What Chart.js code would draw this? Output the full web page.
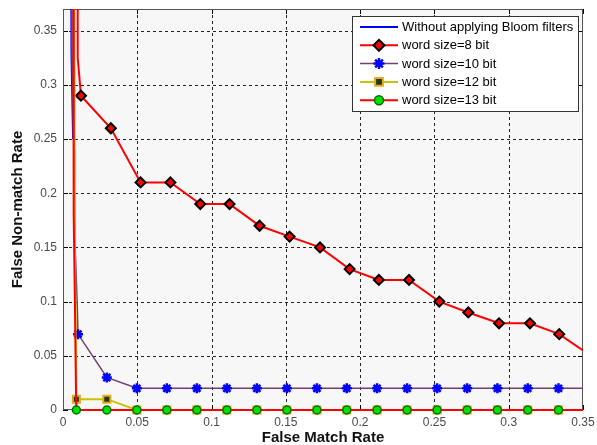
<!DOCTYPE html>
<html>
<head>
<meta charset="utf-8">
<script src="https://cdn.jsdelivr.net/npm/chart.js@4/dist/chart.umd.min.js"></script>
<style>
  html, body { margin: 0; padding: 0; background: #fff; }
  #chart { display: block; }
</style>
</head>
<body>
<canvas id="chart" width="597" height="445"></canvas>
<script>
// FMR / FNMR curves.
const seriesLabels = [
  'Without applying Bloom filters',
  'word size=8 bit',
  'word size=10 bit',
  'word size=12 bit',
  'word size=13 bit'
];

const xTicks = [0, 0.05, 0.1, 0.15, 0.2, 0.25, 0.3, 0.35];
const yTicks = [0, 0.05, 0.1, 0.15, 0.2, 0.25, 0.3, 0.35];

// Shared marker positions along the false match rate axis.
const fmrGrid = [0.009, 0.0295, 0.0497, 0.0699, 0.0901, 0.1103, 0.1305, 0.1507, 0.1709,
                 0.191, 0.2114, 0.2316, 0.2518, 0.272, 0.2924, 0.3128, 0.3335];

// Without Bloom filters: steep curve hugging the y axis, mostly hidden.
const noBloomFmr  = [0.0052, 0.0057, 0.0068];
const noBloomFnmr = [0.6, 0.33, 0.25];

// 8 bit
const lead8Fmr  = [0.0098, 0.0099];
const lead8Fnmr = [0.6, 0.325];
const fmr8  = [0.0121, 0.0322, 0.0522, 0.0723, 0.0924, 0.1121, 0.1323, 0.1525, 0.173,
               0.1929, 0.2126, 0.2329, 0.2533, 0.2728, 0.2935, 0.3143, 0.334];
const fnmr8 = [0.29, 0.26, 0.21, 0.21, 0.19, 0.19, 0.17, 0.16, 0.15,
               0.13, 0.12, 0.12, 0.10, 0.09, 0.08, 0.08, 0.07];
const tail8Fmr  = [0.35];
const tail8Fnmr = [0.055];

// 10 bit
const lead10Fmr  = [0.0055, 0.006, 0.0072, 0.0082, 0.0095];
const lead10Fnmr = [0.6, 0.33, 0.25, 0.15, 0.1];
const fmr10  = [0.0101, 0.0295, 0.0497, 0.0699, 0.0901, 0.1103, 0.1305, 0.1507, 0.1709,
                0.191, 0.2114, 0.2316, 0.2518, 0.272, 0.2924, 0.3128, 0.3335];
const fnmr10 = [0.07, 0.03, 0.02, 0.02, 0.02, 0.02, 0.02, 0.02, 0.02,
                0.02, 0.02, 0.02, 0.02, 0.02, 0.02, 0.02, 0.02];
const tail10Fmr  = [0.35];
const tail10Fnmr = [0.02];

// 12 bit
const lead12Fmr  = [0.0074, 0.0078, 0.008, 0.0086];
const lead12Fnmr = [0.6, 0.24, 0.15, 0.06];
const fnmr12 = [0.01, 0.01, 0, 0, 0, 0, 0, 0, 0, 0, 0, 0, 0, 0, 0, 0, 0];
const tail12Fmr  = [0.35];
const tail12Fnmr = [0];

// 13 bit
const lead13Fmr  = [0.0068, 0.0071, 0.0073, 0.0083, 0.0088];
const lead13Fnmr = [0.6, 0.3, 0.18, 0.07, 0.01];
const fnmr13 = [0, 0, 0, 0, 0, 0, 0, 0, 0, 0, 0, 0, 0, 0, 0, 0, 0];
const tail13Fmr  = [0.35];
const tail13Fnmr = [0];

// Lead-in / tail points carry no marker; the measured points do.
const buildSeries = (leadX, leadY, markX, markY, tailX, tailY, radius) => {
  const data = [], radii = [];
  leadX.forEach((x, i) => { data.push({ x, y: leadY[i] }); radii.push(0); });
  markX.forEach((x, i) => { data.push({ x, y: markY[i] }); radii.push(radius); });
  tailX.forEach((x, i) => { data.push({ x, y: tailY[i] }); radii.push(0); });
  return { data, radii };
};

const s0  = buildSeries(noBloomFmr, noBloomFnmr, [], [], [], [], 0);
const s8  = buildSeries(lead8Fmr, lead8Fnmr, fmr8, fnmr8, tail8Fmr, tail8Fnmr, 5);
const s10 = buildSeries(lead10Fmr, lead10Fnmr, fmr10, fnmr10, tail10Fmr, tail10Fnmr, 5);
const s12 = buildSeries(lead12Fmr, lead12Fnmr, fmrGrid, fnmr12, tail12Fmr, tail12Fnmr, 5);
const s13 = buildSeries(lead13Fmr, lead13Fnmr, fmrGrid, fnmr13, tail13Fmr, tail13Fnmr, 4);

const CLIP = { left: 0, top: 0, right: 0, bottom: 7 };
const FONT = "'Liberation Sans', Arial, sans-serif";

const datasets = [
  { label: seriesLabels[0], data: s0.data, pointRadius: s0.radii, order: 5,
    borderColor: '#0000ff', borderWidth: 2 },
  { label: seriesLabels[1], data: s8.data, pointRadius: s8.radii, order: 4,
    borderColor: '#ff0000', borderWidth: 2,
    pointStyle: 'rectRot', pointBackgroundColor: '#ff0000', pointBorderColor: '#000000', pointBorderWidth: 2 },
  { label: seriesLabels[2], data: s10.data, pointRadius: s10.radii, order: 3,
    borderColor: '#704070', borderWidth: 1.5,
    pointStyle: 'star', pointBackgroundColor: '#0000ff', pointBorderColor: '#0000ff', pointBorderWidth: 2.5 },
  { label: seriesLabels[3], data: s12.data, pointRadius: s12.radii, order: 2,
    borderColor: '#c8c400', borderWidth: 2,
    pointStyle: 'rect', pointBackgroundColor: '#1c3c1c', pointBorderColor: '#e8a820', pointBorderWidth: 2 },
  { label: seriesLabels[4], data: s13.data, pointRadius: s13.radii, order: 1,
    borderColor: '#ff0000', borderWidth: 2,
    pointStyle: 'circle', pointBackgroundColor: '#00e000', pointBorderColor: '#007000', pointBorderWidth: 1.5 }
].map(ds => ({ ...ds, clip: CLIP, tension: 0, fill: false, pointHoverRadius: 0 }));

const fmtTick = v => String(+v.toFixed(2));

// Light plot background, dashed grid, inward ticks and the box frame.
const framePlugin = {
  id: 'frame',
  beforeDatasetsDraw(chart) {
    const { ctx, chartArea: a, scales: { x, y } } = chart;
    ctx.save();
    ctx.fillStyle = '#f7f7f7';
    ctx.fillRect(a.left, a.top, a.right - a.left, a.bottom - a.top);

    ctx.strokeStyle = '#222';
    ctx.lineWidth = 1;
    ctx.setLineDash([3, 3]);
    xTicks.forEach(v => {
      const px = Math.round(x.getPixelForValue(v)) + 0.5;
      if (px <= a.left + 1 || px >= a.right - 1) return;
      ctx.beginPath(); ctx.moveTo(px, a.top); ctx.lineTo(px, a.bottom); ctx.stroke();
    });
    yTicks.forEach(v => {
      const py = Math.round(y.getPixelForValue(v)) + 0.5;
      if (py >= a.bottom - 1 || py <= a.top + 1) return;
      ctx.beginPath(); ctx.moveTo(a.left, py); ctx.lineTo(a.right, py); ctx.stroke();
    });

    ctx.setLineDash([]);
    ctx.strokeStyle = '#000';
    const tl = 5;
    xTicks.forEach(v => {
      const px = Math.round(x.getPixelForValue(v)) + 0.5;
      ctx.beginPath();
      ctx.moveTo(px, a.bottom); ctx.lineTo(px, a.bottom - tl);
      ctx.moveTo(px, a.top); ctx.lineTo(px, a.top + tl);
      ctx.stroke();
    });
    yTicks.forEach(v => {
      const py = Math.round(y.getPixelForValue(v)) + 0.5;
      ctx.beginPath();
      ctx.moveTo(a.left, py); ctx.lineTo(a.left + tl, py);
      ctx.moveTo(a.right, py); ctx.lineTo(a.right - tl, py);
      ctx.stroke();
    });

    ctx.strokeStyle = '#555';
    ctx.strokeRect(Math.round(a.left) + 0.5, Math.round(a.top) + 0.5,
                   Math.round(a.right - a.left) - 1, Math.round(a.bottom - a.top) - 1);
    ctx.restore();
  }
};

// MATLAB-style legend: line sample with the marker centred on it.
const legendPlugin = {
  id: 'matlabLegend',
  afterDraw(chart) {
    const { ctx } = chart;
    const box = { left: 352, top: 16, width: 227, height: 96 };
    ctx.save();
    ctx.fillStyle = '#fff';
    ctx.fillRect(box.left, box.top, box.width, box.height);
    ctx.strokeStyle = '#333';
    ctx.lineWidth = 1;
    ctx.strokeRect(box.left + 0.5, box.top + 0.5, box.width - 1, box.height - 1);

    ctx.font = `13px ${FONT}`;
    ctx.textBaseline = 'middle';
    chart.data.datasets.forEach((ds, i) => {
      const rowY = box.top + 11 + i * 18.3;
      ctx.strokeStyle = ds.borderColor;
      ctx.lineWidth = ds.borderWidth;
      ctx.beginPath(); ctx.moveTo(360, rowY); ctx.lineTo(398, rowY); ctx.stroke();
      if (ds.pointStyle) {
        ctx.fillStyle = ds.pointBackgroundColor;
        ctx.strokeStyle = ds.pointBorderColor;
        ctx.lineWidth = ds.pointBorderWidth;
        const r = Math.max(...ds.pointRadius) + 0.5;
        Chart.helpers.drawPoint(ctx, { pointStyle: ds.pointStyle, radius: r, rotation: 0,
                                       borderWidth: ds.pointBorderWidth }, 379, rowY);
      }
      ctx.fillStyle = '#000';
      ctx.fillText(ds.label, 402, rowY + 0.5);
    });
    ctx.restore();
  }
};

new Chart(document.getElementById('chart'), {
  type: 'line',
  data: { datasets },
  plugins: [framePlugin, legendPlugin],
  options: {
    responsive: false,
    animation: false,
    devicePixelRatio: 1,
    events: [],
    layout: { padding: { top: 9, right: 14, left: 0, bottom: 0 } },
    plugins: { legend: { display: false }, tooltip: { enabled: false } },
    scales: {
      x: {
        type: 'linear', min: 0, max: 0.35,
        grid: { display: false, drawTicks: false },
        border: { display: false },
        afterBuildTicks: s => { s.ticks = xTicks.map(value => ({ value })); },
        afterFit: s => { s.height = 35; s.paddingLeft = 0; s.paddingRight = 0; },
        ticks: { padding: 5, color: '#4a4a4a', font: { family: FONT, size: 12 },
                 maxRotation: 0, autoSkip: false, callback: fmtTick },
        title: { display: true, text: 'False Match Rate', color: '#111',
                 font: { family: FONT, size: 15, weight: 'bold', lineHeight: 1 },
                 padding: { top: 0, bottom: 0 } }
      },
      y: {
        type: 'linear', min: 0, max: 0.37,
        grid: { display: false, drawTicks: false },
        border: { display: false },
        afterBuildTicks: s => { s.ticks = yTicks.map(value => ({ value })); },
        afterFit: s => { s.width = 63; s.paddingTop = 0; s.paddingBottom = 0; },
        ticks: { padding: 6, color: '#4a4a4a', font: { family: FONT, size: 12 },
                 autoSkip: false, callback: fmtTick },
        title: { display: true, text: 'False Non-match Rate', color: '#111',
                 font: { family: FONT, size: 15, weight: 'bold', lineHeight: 1 },
                 padding: { top: 10.5, bottom: 0 } }
      }
    }
  }
});
</script>
</body>
</html>
